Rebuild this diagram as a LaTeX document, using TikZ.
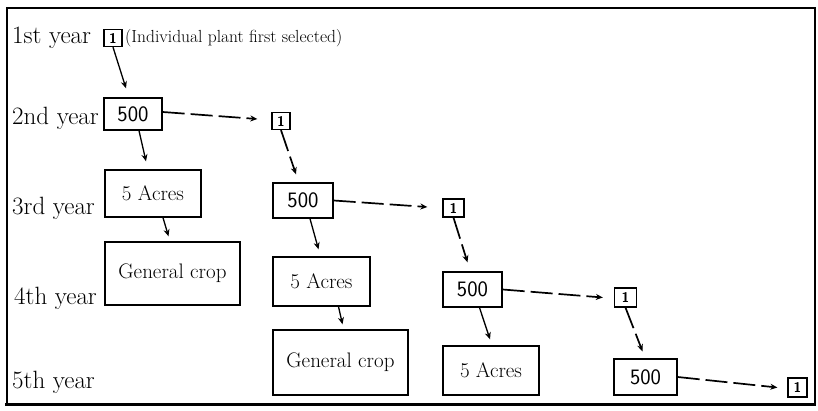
\documentclass[tikz,border=0pt]{standalone}
\usetikzlibrary{arrows.meta,calc}
\begin{document}
\begin{tikzpicture}[x=1pt,y=-1pt,
  yr/.style={anchor=west,inner sep=0pt,font=\fontsize{25}{28}\selectfont},
  bx/.style={draw,line width=1.4pt,inner sep=0pt,font=\fontsize{21}{24}\selectfont},
  onebox/.style={draw,line width=1.3pt,inner sep=0pt,minimum width=18pt,minimum height=17pt,font=\fontsize{14}{15}\selectfont\bfseries\sffamily},
  numf/.style={font=\fontsize{22}{24}\selectfont\sffamily},
  sarr/.style={line width=1.3pt,-{Stealth[length=7pt,width=6pt]}},
  darr/.style={line width=1.7pt,dash pattern=on 22pt off 6pt,-{Stealth[length=7pt,width=6pt]}}]
\useasboundingbox (0,0) rectangle (818,411);
\fill[white] (0,0) rectangle (818,411);
% frame
\draw[line width=1.2pt] (7,404) -- (7,8) -- (815,8) -- (815,404);
\draw[line width=3pt] (5,404) -- (816,404);
% year labels
\node[yr] (y1) at (12,38) {1st year};
\node[yr] (y2) at (12,118) {2nd year};
\node[yr] (y3) at (12,208) {3rd year};
\node[yr] (y4) at (14,298) {4th year};
\node[yr] (y5) at (12,382) {5th year};
% row 1
\node[onebox] (o1) at (113,38) {1};
\node[anchor=west,inner sep=0pt,font=\fontsize{17.5}{20}\selectfont] (sel) at (125,38) {(Individual plant first selected)};
% boxes
\node[bx,numf,minimum width=58pt,minimum height=32pt] (p2) at (133,114) {500};
\node[onebox] (o2) at (281,121) {1};
\node[bx,minimum width=96pt,minimum height=47pt] (a3) at (153,193.5) {5 Acres};
\node[bx,numf,minimum width=60pt,minimum height=35pt] (p3) at (303,200.5) {500};
\node[onebox,minimum width=21pt,minimum height=18pt] (o3) at (453.5,208) {1};
\node[bx,minimum width=135pt,minimum height=63pt] (g4) at (172.5,273.5) {General crop};
\node[bx,minimum width=97pt,minimum height=49pt] (a4) at (321.5,281.5) {5 Acres};
\node[bx,numf,minimum width=59pt,minimum height=35pt] (p4) at (472.5,289.5) {500};
\node[onebox,minimum width=22pt,minimum height=19pt] (o4) at (625.5,297.5) {1};
\node[bx,minimum width=135pt,minimum height=65pt] (g5) at (340.5,362.5) {General crop};
\node[bx,minimum width=96pt,minimum height=49pt] (a5) at (491,370.5) {5 Acres};
\node[bx,numf,minimum width=63pt,minimum height=36pt] (p5) at (645.5,377) {500};
\node[onebox,minimum width=19pt,minimum height=19pt] (o5) at (797.5,387.5) {1};
% solid arrows
\draw[sarr] (o1.south) -- ([xshift=-7pt,yshift=9pt]p2.north);
\draw[sarr] ([xshift=6pt]p2.south) -- ([xshift=-7pt,yshift=8pt]a3.north);
\draw[sarr] ([xshift=10pt]a3.south) -- ([xshift=-4pt,yshift=5pt]g4.north);
\draw[sarr] ([xshift=7pt]p3.south) -- ([xshift=-3pt,yshift=7pt]a4.north);
\draw[sarr] ([xshift=17pt]a4.south) -- ([xshift=2pt,yshift=5pt]g5.north);
\draw[sarr] ([xshift=7pt]p4.south) -- ([xshift=-1pt,yshift=6pt]a5.north);
% dashed arrows
\draw[darr] ([yshift=2pt]p2.east) -- ([xshift=-14pt,yshift=2pt]o2.west);
\draw[darr] (o2.south) -- ([xshift=-7pt,yshift=8pt]p3.north);
\draw[darr] (p3.east) -- ([xshift=-15pt,yshift=1pt]o3.west);
\draw[darr] (o3.south) -- ([xshift=-5pt,yshift=9pt]p4.north);
\draw[darr] (p4.east) -- ([xshift=-11pt]o4.west);
\draw[darr] (o4.south) -- ([xshift=-3pt,yshift=7pt]p5.north);
\draw[darr] (p5.east) -- ([xshift=-10pt]o5.west);
\end{tikzpicture}
\end{document}
